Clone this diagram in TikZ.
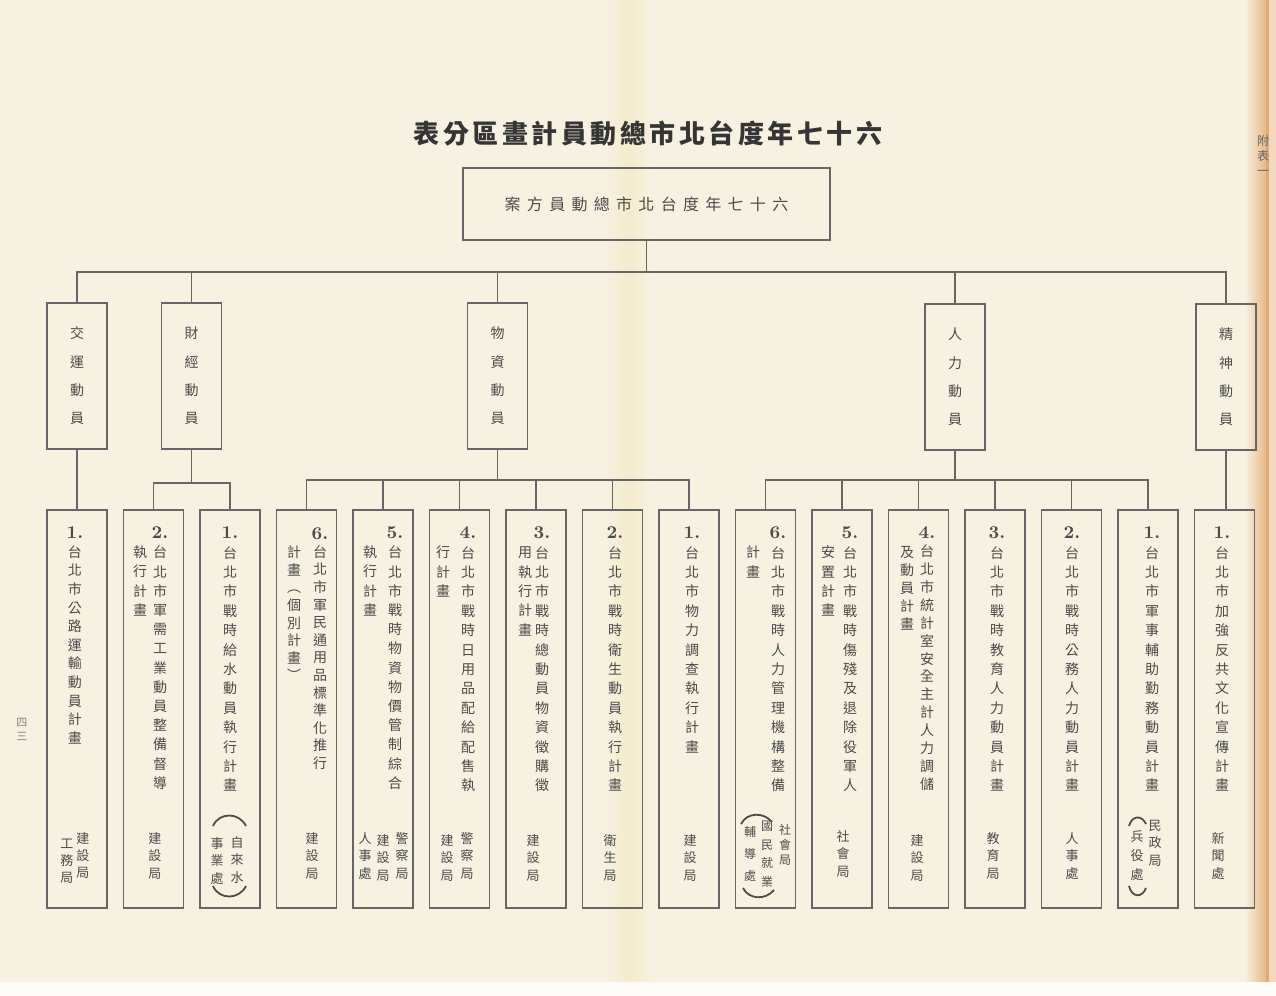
\documentclass[tikz,border=0pt]{standalone}
\usepackage{fontspec}
\newfontfamily\cjk{Noto Sans CJK TC}
\definecolor{bg}{HTML}{F7F1E1}
\definecolor{ink}{HTML}{4C4C4C}
\definecolor{inkd}{HTML}{353535}
\definecolor{rulec}{HTML}{666666}
\definecolor{foldc}{HTML}{F4EBCC}
\definecolor{edgec}{HTML}{E8B886}
\makeatletter
\newcommand\vtext[2]{\vbox{\baselineskip=#1\relax\lineskiplimit=-\maxdimen\lineskip=0pt\relax
  \@tfor\vt@c:=#2\do{\hbox to 1.3em{\hss\vrule height .9em depth .15em width 0pt\relax\vt@c\hss}}}}
\newcommand\htext[2]{\hbox{\@tfor\vt@c:=#2\do{\hbox to #1{\hss\vt@c\hss}}}}
\makeatother
\newcommand\numlab[1]{{\fontsize{9}{9}\selectfont\rmfamily\bfseries #1}}
\tikzset{
  vc/.style={anchor=north, inner sep=0pt, text=ink},
  bbox/.style={draw=rulec, line width=0.8pt, minimum width=30pt, minimum height=199pt, inner sep=0pt},
  kbox/.style={draw=rulec, line width=0.8pt, minimum width=30pt, minimum height=73pt, inner sep=0pt, text=ink,
     font=\fontsize{7}{7}\selectfont\cjk},
  conn/.style={draw=rulec, line width=0.8pt},
  paren/.style={draw=ink, line width=0.9pt}
}
% name, x, y of first item centre, pitch (pt), font size (pt), items
\newcommand\vcol[6]{\node[vc,yshift=0.52*#5pt] (#1) at (#2,#3) {\fontsize{#5}{#5}\selectfont\cjk\vtext{#4pt}{#6}};}
\begin{document}
\begin{tikzpicture}[x=0.5pt,y=-0.5pt]
\useasboundingbox (0,0) rectangle (1276,996);
\fill[bg] (0,0) rectangle (1276,996);
\shade[left color=bg, right color=foldc] (605,0) rectangle (628,996);
\shade[left color=foldc, right color=bg] (628,0) rectangle (652,996);
\shade[left color=bg, right color=edgec] (1245,0) rectangle (1266,996);
\fill[edgec!75!brown] (1266,0) rectangle (1269,996);
\fill[edgec!55!white] (1269,0) rectangle (1276,996);
\fill[white!75!bg] (0,982) rectangle (1276,996);

% title
\node[text=inkd, inner sep=0pt] (title) at (648,133)
  {\fontsize{13}{13}\selectfont\cjk\bfseries\htext{14.75pt}{表分區畫計員動總市北台度年七十六}};
% root
\node[draw=rulec, line width=0.8pt, minimum width=183.5pt, minimum height=36pt, inner sep=0pt, text=ink] (root) at (646.5,204)
  {\fontsize{8}{8}\selectfont\cjk\htext{11.15pt}{案方員動總市北台度年七十六}};

% level 1
\node[kbox] (k1) at (77,376) {\vtext{14.15pt}{交運動員}};
\node[kbox] (k2) at (191.5,376) {\vtext{14.15pt}{財經動員}};
\node[kbox] (k3) at (497.5,376) {\vtext{14.15pt}{物資動員}};
\node[kbox] (k4) at (955,377) {\vtext{14.15pt}{人力動員}};
\node[kbox] (k5) at (1226,377) {\vtext{14.15pt}{精神動員}};

\coordinate (bus) at (0,272);
\coordinate (s2) at (0,483);
\coordinate (s3) at (0,480);

% level 2 boxes
\foreach \i in {1,...,16} {
  \pgfmathsetmacro\cx{77+76.5*(\i-1)}
  \node[bbox] (b\i) at (\cx,709) {};
}

% connectors
\draw[conn] (root.south) -- (root.south |- bus);
\draw[conn] (k1.north) -- (k1.north |- bus) -- (k5.north |- bus) -- (k5.north);
\foreach \k in {k2,k3,k4} \draw[conn] (\k.north) -- (\k.north |- bus);
\draw[conn] (k1.south) -- (b1.north);
\draw[conn] (k5.south) -- (k5.south |- b16.north);
\draw[conn] (k2.south) -- (k2.south |- s2);
\draw[conn] (b2.north) -- (b2.north |- s2) -- (b3.north |- s2) -- (b3.north);
\draw[conn] (k3.south) -- (k3.south |- s3);
\draw[conn] (b4.north) -- (b4.north |- s3) -- (b9.north |- s3) -- (b9.north);
\foreach \b in {b5,b6,b7,b8} \draw[conn] (\b.north) -- (\b.north |- s3);
\draw[conn] (k4.south) -- (k4.south |- s3);
\draw[conn] (b10.north) -- (b10.north |- s3) -- (b15.north |- s3) -- (b15.north);
\foreach \b in {b11,b12,b13,b14} \draw[conn] (\b.north) -- (\b.north |- s3);

% box texts (right column starts with number)
\vcol{t1}{75}{533}{9.3}{7}{{\numlab{1.}}台北市公路運輸動員計畫}
\vcol{a1a}{83}{838}{8.5}{6.5}{建設局}
\vcol{a1b}{67}{843}{8.5}{6.5}{工務局}

\vcol{t2}{160}{533}{9.6}{7}{{\numlab{2.}}台北市軍需工業動員整備督導}
\vcol{t2b}{140}{552}{9.6}{7}{執行計畫}
\vcol{a2}{155}{838}{8.75}{6.5}{建設局}

\vcol{t3}{230}{533}{9.7}{7}{{\numlab{1.}}台北市戰時給水動員執行計畫}
\vcol{a3a}{237}{842}{8.75}{6.5}{自來水}
\vcol{a3b}{217}{843}{8.75}{6.5}{事業處}
\draw[paren] (213,826) .. controls (219,812) and (239,812) .. (246,826);
\draw[paren] (213,886) .. controls (219,900) and (239,900) .. (246,886);

\vcol{t4}{320}{534}{8.8}{7}{{\numlab{6.}}台北市軍民通用品標準化推行}
\vcol{t4b}{294}{552}{8.8}{7}{計畫︵個別計畫︶}
\vcol{a4}{312}{838}{8.75}{6.5}{建設局}

\vcol{t5}{395}{533}{9.6}{7}{{\numlab{5.}}台北市戰時物資物價管制綜合}
\vcol{t5b}{370}{552}{9.6}{7}{執行計畫}
\vcol{a5a}{402}{838}{8.75}{6.5}{警察局}
\vcol{a5b}{383}{840}{8.75}{6.5}{建設局}
\vcol{a5c}{365}{838}{8.75}{6.5}{人事處}

\vcol{t6}{468}{533}{9.7}{7}{{\numlab{4.}}台北市戰時日用品配給配售執}
\vcol{t6b}{443}{552}{9.7}{7}{行計畫}
\vcol{a6a}{467}{838}{8.75}{6.5}{警察局}
\vcol{a6b}{447}{840}{8.75}{6.5}{建設局}

\vcol{t7}{542}{533}{9.7}{7}{{\numlab{3.}}台北市戰時總動員物資徵購徵}
\vcol{t7b}{525}{552}{9.7}{7}{用執行計畫}
\vcol{a7}{533}{840}{8.75}{6.5}{建設局}

\vcol{t8}{615}{533}{9.7}{7}{{\numlab{2.}}台北市戰時衛生動員執行計畫}
\vcol{a8}{610}{840}{8.75}{6.5}{衛生局}

\vcol{t9}{692}{533}{9.7}{7}{{\numlab{1.}}台北市物力調查執行計畫}
\vcol{a9}{690}{840}{8.75}{6.5}{建設局}

\vcol{t10}{778}{533}{9.7}{7}{{\numlab{6.}}台北市戰時人力管理機構整備}
\vcol{t10b}{753}{552}{9.7}{7}{計畫}
\vcol{a10a}{785}{830}{7.5}{6}{社會局}
\vcol{a10b}{767}{826}{9.2}{6}{國民就業}
\vcol{a10c}{750}{832}{11}{6}{輔導處}
\draw[paren] (741,824) .. controls (747,812) and (764,812) .. (772,822);
\draw[paren] (743,888) .. controls (749,900) and (766,900) .. (774,890);

\vcol{t11}{850}{533}{9.7}{7}{{\numlab{5.}}台北市戰時傷殘及退除役軍人}
\vcol{t11b}{828}{552}{9.7}{7}{安置計畫}
\vcol{a11}{843}{836}{8.75}{6.5}{社會局}

\vcol{t12}{927}{533}{8.95}{7}{{\numlab{4.}}台北市統計室安全主計人力調儲}
\vcol{t12b}{907}{552}{8.95}{7}{及動員計畫}
\vcol{a12}{917}{840}{8.75}{6.5}{建設局}

\vcol{t13}{997}{533}{9.7}{7}{{\numlab{3.}}台北市戰時教育人力動員計畫}
\vcol{a13}{993}{838}{8.75}{6.5}{教育局}

\vcol{t14}{1072}{533}{9.7}{7}{{\numlab{2.}}台北市戰時公務人力動員計畫}
\vcol{a14}{1072}{838}{8.75}{6.5}{人事處}

\vcol{t15}{1152}{533}{9.7}{7}{{\numlab{1.}}台北市軍事輔助勤務動員計畫}
\vcol{a15a}{1155}{825}{8.75}{6.5}{民政局}
\vcol{a15b}{1137}{836}{9.5}{6.5}{兵役處}
\draw[paren] (1129,826) .. controls (1132,815) and (1142,815) .. (1146,824);
\draw[paren] (1129,886) .. controls (1132,898) and (1142,898) .. (1146,888);

\vcol{t16}{1222}{533}{9.7}{7}{{\numlab{1.}}台北市加強反共文化宣傳計畫}
\vcol{a16}{1218}{838}{8.75}{6.5}{新聞處}

% margin marks
\node[vc, text=ink!70] (pg) at (22,716) {\fontsize{5.5}{5.5}\selectfont\cjk\vtext{7pt}{四三}};
\node[vc, text=ink!85] (fb) at (1263,134) {\fontsize{6}{6}\selectfont\cjk\vtext{7.5pt}{附表一}};
\end{tikzpicture}
\end{document}
